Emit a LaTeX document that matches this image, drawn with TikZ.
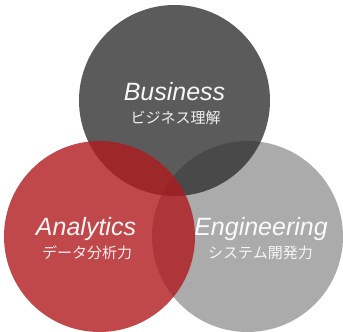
\documentclass[tikz,border=0pt]{standalone}
\usepackage{fontspec}
\setmainfont{Liberation Sans}
\newfontfamily\jpfont{Noto Sans CJK JP}
\definecolor{cgray}{RGB}{150,150,150}
\definecolor{cdark}{RGB}{50,50,50}
\definecolor{cred}{RGB}{176,26,30}
\begin{document}
\begin{tikzpicture}[x=1pt,y=-1pt,
  venn/.style={circle,inner sep=0pt,minimum size=191pt,fill opacity=0.8,draw=none},
  title/.style={anchor=base,text=white,text opacity=0.95,inner sep=0pt,font=\fontsize{25}{30}\selectfont\itshape},
  sub/.style={anchor=base,text=white,text opacity=0.9,inner sep=0pt,font=\fontsize{15}{18}\selectfont\jpfont}]
\useasboundingbox (0,0) rectangle (343,332);
\node[venn,fill=cgray] (eng) at (247.5,236.5) {};
\node[venn,fill=cdark] (bus) at (174.5,100.5) {};
\node[venn,fill=cred] (ana) at (99.5,236.5) {};
\node[title] (bust) at (174.5,100) {Business};
\node[sub] (busj) at (175.5,123.5) {ビジネス理解};
\node[title] (anat) at (86,235) {Analytics};
\node[sub] (anaj) at (87,258.5) {データ分析力};
\node[title] (engt) at (261,235) {Engineering};
\node[sub] (engj) at (260.5,258.5) {システム開発力};
\end{tikzpicture}
\end{document}
